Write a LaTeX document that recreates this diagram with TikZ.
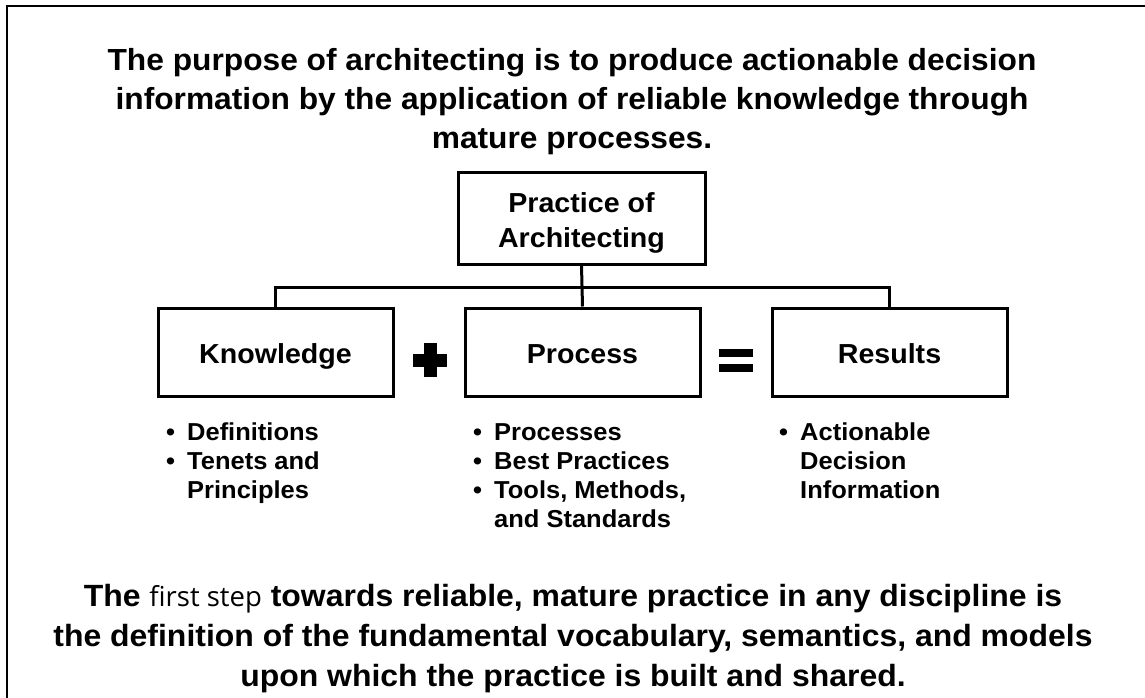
\documentclass[tikz,border=0pt]{standalone}
\usepackage{fontspec}
\setmainfont{Liberation Sans}[FakeStretch=1.04]
\newfontfamily\lightfont{Open Sans}
\begin{document}
\begin{tikzpicture}[x=1pt,y=-1pt,
  headline/.style={anchor=base,inner sep=0pt,font=\bfseries\fontsize{30.5}{36}\selectfont},
  footline/.style={anchor=base,inner sep=0pt,font=\bfseries\fontsize{30.7}{36}\selectfont},
  box/.style={draw,line width=3pt,minimum width=235pt,minimum height=88pt,inner sep=0pt,
    font=\bfseries\fontsize{27.5}{35}\selectfont,text height=22pt,text depth=0pt},
  link/.style={line width=3pt},
  bullets/.style={anchor=base west,inner sep=0pt,font=\bfseries\fontsize{24.5}{29}\selectfont},
  sign/.style={fill=black,draw=none}]
\useasboundingbox (0,0) rectangle (1145,698);
\draw[line width=2pt] (7,698) -- (7,6) -- (1145,6);

% title
\node[headline] (t1) at (572,71) {The purpose of architecting is to produce actionable decision};
\node[headline] (t2) at (572,110) {information by the application of reliable knowledge through};
\node[headline] (t3) at (572,149) {mature processes.};

% boxes
\node[box,minimum width=247pt,minimum height=92pt,text height=58pt] (prac) at (581.5,218)
  {\begin{tabular}[b]{@{}c@{}}Practice of\\Architecting\end{tabular}};
\node[box] (know) at (275.5,352) {Knowledge};
\node[box] (proc) at (582.5,352) {Process};
\node[box] (res) at (889.5,352) {Results};

% connectors
\draw[link] (prac.south) -- (proc.north);
\draw[link] (know.north) -- ++(0,-19) -| (res.north);

% plus and equals
\fill[sign] (413,354) rectangle (447,367);
\fill[sign] (423.5,343) rectangle (436.5,377);
\fill[sign] (719,349) rectangle (753,357);
\fill[sign] (719,364) rectangle (753,372);

% bullet lists
\node[bullets] (kb) at (166,440) {\begin{tabular}[t]{@{}l@{}}
\makebox[21pt][l]{•}Definitions\\
\makebox[21pt][l]{•}Tenets and\\
\makebox[21pt][l]{}Principles\end{tabular}};
\node[bullets] (pb) at (473,440) {\begin{tabular}[t]{@{}l@{}}
\makebox[21pt][l]{•}Processes\\
\makebox[21pt][l]{•}Best Practices\\
\makebox[21pt][l]{•}Tools, Methods,\\
\makebox[21pt][l]{}and Standards\end{tabular}};
\node[bullets] (rb) at (779,440) {\begin{tabular}[t]{@{}l@{}}
\makebox[21pt][l]{•}Actionable\\
\makebox[21pt][l]{}Decision\\
\makebox[21pt][l]{}Information\end{tabular}};

% closing statement
\node[footline] (b1) at (573,606) {The {\mdseries\lightfont\fontsize{27.5}{36}\selectfont first step} towards reliable, mature practice in any discipline is};
\node[footline] (b2) at (573,646) {the definition of the fundamental vocabulary, semantics, and models};
\node[footline] (b3) at (573,686) {upon which the practice is built and shared.};
\end{tikzpicture}
\end{document}
